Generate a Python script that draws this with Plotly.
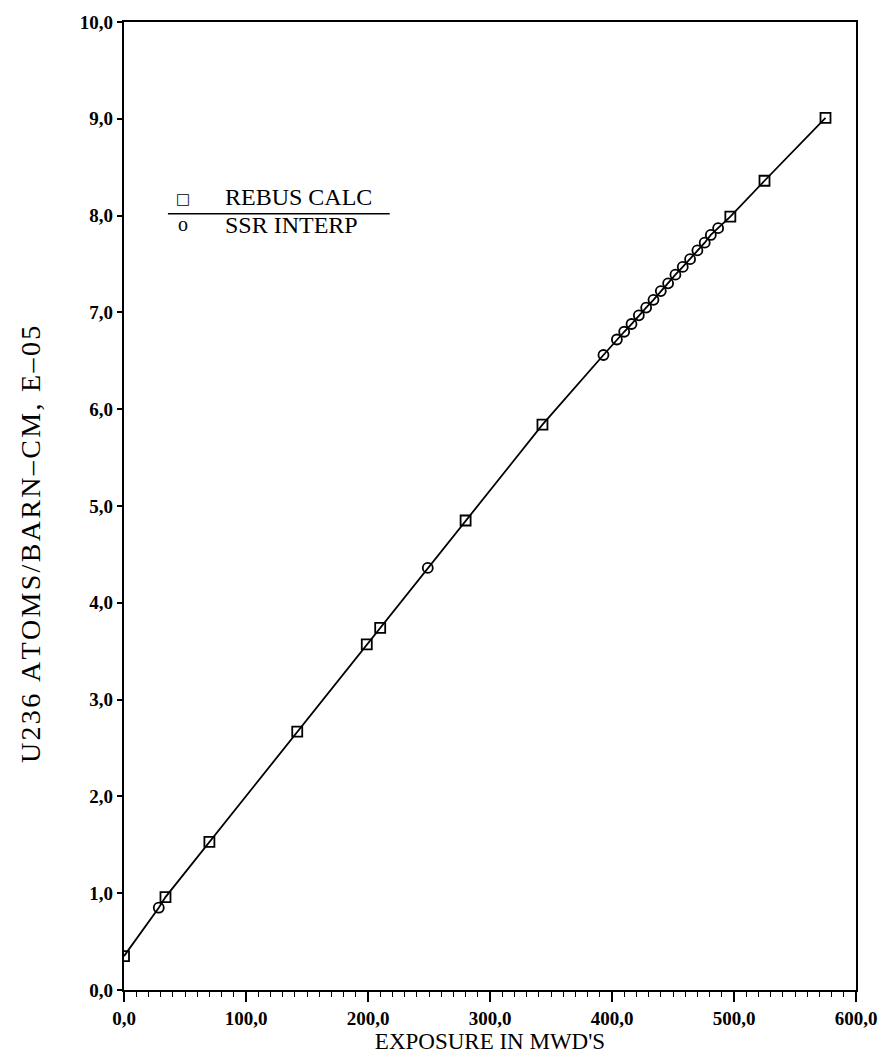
import plotly.graph_objects as go

# REBUS CALC (squares)
rebus_x = [0, 34, 70, 142, 199, 210, 280, 343, 497, 525, 575]
rebus_y = [0.35, 0.96, 1.53, 2.67, 3.57, 3.74, 4.85, 5.84, 7.99, 8.36, 9.01]

# SSR INTERP (circles)
ssr_x = [28.5, 249, 393, 404, 410, 416, 422, 428, 434, 440, 446, 452, 458, 464, 470, 476, 481, 487]
ssr_y = [0.85, 4.36, 6.56, 6.72, 6.80, 6.88, 6.97, 7.05, 7.13, 7.22, 7.30, 7.39, 7.47, 7.55, 7.64, 7.72, 7.80, 7.87]

x_tickvals = [0, 100, 200, 300, 400, 500, 600]
x_ticktext = ["0,0", "100,0", "200,0", "300,0", "400,0", "500,0", "600,0"]
y_tickvals = [0, 1, 2, 3, 4, 5, 6, 7, 8, 9, 10]
y_ticktext = ["0,0", "1,0", "2,0", "3,0", "4,0", "5,0", "6,0", "7,0", "8,0", "9,0", "10,0"]

y_title = "U236 ATOMS/BARN\u2013CM, E\u201305"
x_title = "EXPOSURE IN MWD'S"

# connecting curve through all points, sorted by exposure
pairs = sorted(zip(rebus_x + ssr_x, rebus_y + ssr_y))
line_x = [p[0] for p in pairs]
line_y = [p[1] for p in pairs]

fig = go.Figure()
fig.add_trace(go.Scatter(x=line_x, y=line_y, mode="lines",
                         line=dict(color="black", width=1.8), showlegend=False, hoverinfo="skip"))
fig.add_trace(go.Scatter(x=rebus_x, y=rebus_y, mode="markers", name="REBUS CALC",
                         marker=dict(symbol="square-open", size=10, color="black", line=dict(width=1.8)),
                         showlegend=False))
fig.add_trace(go.Scatter(x=ssr_x, y=ssr_y, mode="markers", name="SSR INTERP",
                         marker=dict(symbol="circle-open", size=10, color="black", line=dict(width=1.8)),
                         showlegend=False))

serif = "Liberation Serif, Times New Roman, serif"
tickf = dict(family=serif, size=19, color="black", weight="bold")
spaced_y_title = "\u200a".join(y_title)

fig.update_layout(
    width=889, height=1061,
    margin=dict(l=124, r=33, t=20, b=71),
    paper_bgcolor="white", plot_bgcolor="white",
    font=dict(family=serif, color="black"),
    xaxis=dict(range=[0, 600], tickvals=x_tickvals, ticktext=x_ticktext,
               ticks="outside", ticklen=10, tickwidth=1.8, tickcolor="black",
               minor=dict(dtick=10, ticks="outside", ticklen=5, tickwidth=1.4, tickcolor="black"),
               showline=True, linecolor="black", linewidth=2.2, mirror=True,
               showgrid=False, zeroline=False,
               tickfont=tickf,
               title=dict(text=x_title, font=dict(family=serif, size=23, color="black"), standoff=4)),
    yaxis=dict(range=[0, 10], tickvals=y_tickvals, ticktext=y_ticktext,
               ticks="outside", ticklen=5, tickwidth=1.8, tickcolor="black",
               showline=True, linecolor="black", linewidth=2.2, mirror=True,
               showgrid=False, zeroline=False,
               tickfont=tickf),
)

# y-axis title placed as annotation (slightly below centre, as in the reference)
fig.add_annotation(xref="paper", yref="paper", x=-0.128, y=0.46, text=spaced_y_title, textangle=-90,
                   showarrow=False, font=dict(family=serif, size=28, color="black"),
                   xanchor="center", yanchor="middle")

# custom legend
fig.add_shape(type="line", xref="paper", yref="paper", x0=0.060, x1=0.363, y0=0.802, y1=0.802,
              line=dict(color="black", width=1.5))
fig.add_annotation(xref="paper", yref="paper", x=0.081, y=0.817, text="\u25a1", showarrow=False,
                   font=dict(family="DejaVu Sans", size=15, color="black"), xanchor="center", yanchor="middle")
fig.add_annotation(xref="paper", yref="paper", x=0.081, y=0.791, text="o", showarrow=False,
                   font=dict(family=serif, size=20, color="black"), xanchor="center", yanchor="middle")
fig.add_annotation(xref="paper", yref="paper", x=0.135, y=0.8195, text="REBUS CALC", showarrow=False,
                   font=dict(family=serif, size=24, color="black"), xanchor="left", yanchor="middle")
fig.add_annotation(xref="paper", yref="paper", x=0.135, y=0.7905, text="SSR INTERP", showarrow=False,
                   font=dict(family=serif, size=24, color="black"), xanchor="left", yanchor="middle")

fig.write_html("out.html")
